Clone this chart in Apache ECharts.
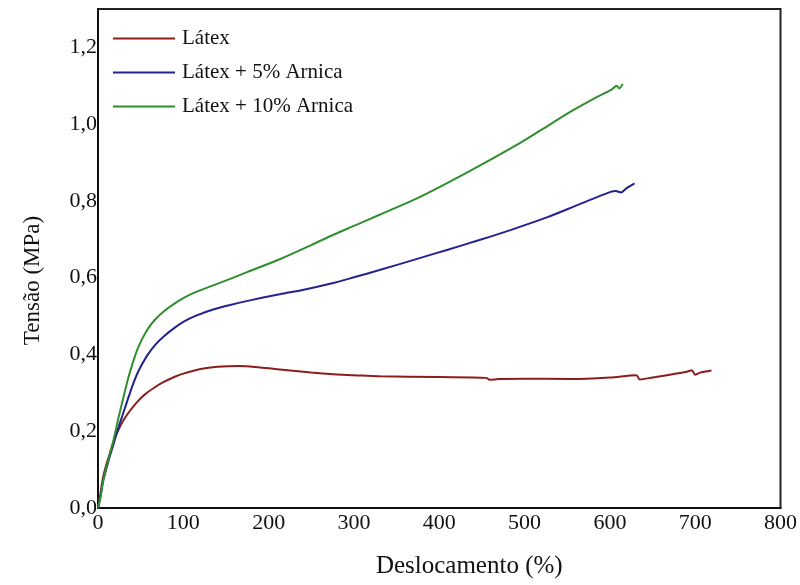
<!DOCTYPE html>
<html>
<head>
<meta charset="utf-8">
<script src="https://cdn.jsdelivr.net/npm/echarts@6/dist/echarts.min.js"></script>
<style>
  html, body { margin: 0; padding: 0; background: #fff; }
  #main { width: 800px; height: 585px; }
</style>
</head>
<body>
<div id="main"></div>
<script>
// series names
const seriesNames = ["Látex", "Látex + 5% Arnica", "Látex + 10% Arnica"];

// [deslocamento (%), tensão (MPa)]
const latex = [
  [0, 0], [3, 0.04], [6, 0.08], [10, 0.115], [15, 0.15], [20, 0.183], [25, 0.208],
  [30, 0.229], [37, 0.252], [45, 0.274], [55, 0.296], [65, 0.312], [76, 0.327],
  [90, 0.342], [100, 0.35], [120, 0.362], [140, 0.368], [166, 0.37], [190, 0.366],
  [213, 0.361], [250, 0.353], [272, 0.349], [300, 0.346], [330, 0.343], [400, 0.341],
  [455, 0.339], [459, 0.334], [470, 0.336], [500, 0.337], [553, 0.336], [600, 0.34],
  [631, 0.346], [635, 0.335], [650, 0.34], [690, 0.355], [696, 0.359], [700, 0.347],
  [705, 0.352], [719, 0.358]
];

const latex5 = [
  [0, 0], [3, 0.03], [6, 0.07], [12, 0.12], [18, 0.165], [24, 0.21], [30, 0.25],
  [36, 0.29], [41, 0.322], [47, 0.355], [57, 0.395], [67, 0.425], [77, 0.447],
  [90, 0.47], [100, 0.485], [115, 0.501], [135, 0.517], [155, 0.529], [174, 0.539],
  [213, 0.557], [240, 0.568], [272, 0.584], [300, 0.601], [330, 0.62], [377, 0.651],
  [410, 0.673], [447, 0.698], [486, 0.726], [526, 0.757], [564, 0.791], [600, 0.823],
  [607, 0.826], [613, 0.822], [620, 0.834], [629, 0.846]
];

const latex10 = [
  [0, 0], [3, 0.03], [6, 0.07], [12, 0.125], [18, 0.175], [24, 0.235], [30, 0.29],
  [35, 0.335], [41, 0.38], [47, 0.418], [57, 0.462], [67, 0.491], [77, 0.512],
  [90, 0.533], [100, 0.547], [115, 0.563], [135, 0.58], [155, 0.597], [174, 0.614],
  [213, 0.648], [250, 0.685], [272, 0.708], [300, 0.735], [330, 0.764], [377, 0.81],
  [435, 0.877], [494, 0.95], [518, 0.983], [556, 1.035], [584, 1.07], [602, 1.09],
  [608, 1.1], [611, 1.093], [615, 1.105]
];

const colors = ["#8b1d1d", "#23238f", "#2f8f2f"];

const chart = echarts.init(document.getElementById("main"));

const serif = "'Liberation Serif', 'DejaVu Serif', serif";

chart.setOption({
  backgroundColor: "#fff",
  animation: false,
  color: colors,
  textStyle: { fontFamily: serif },
  legend: {
    orient: "vertical",
    left: 113,
    top: 28,
    padding: 0,
    icon: "rect",
    itemWidth: 62,
    itemHeight: 2,
    itemGap: 13,
    data: seriesNames,
    textStyle: { fontFamily: serif, fontSize: 21, color: "#111", padding: [0, 0, 0, 2] }
  },
  grid: {
    left: 98,
    right: 19,
    top: 9,
    bottom: 77,
    show: true,
    borderColor: "#222",
    borderWidth: 2,
    containLabel: false
  },
  xAxis: {
    type: "value",
    min: 0,
    max: 800,
    interval: 100,
    name: "Deslocamento (%)",
    nameLocation: "middle",
    nameGap: 46,
    nameTextStyle: { fontFamily: serif, fontSize: 25, color: "#111", padding: [0, 0, 0, 60] },
    axisLine: { show: true, lineStyle: { color: "#111", width: 2 } },
    axisTick: { show: false },
    splitLine: { show: false },
    axisLabel: { fontFamily: serif, fontSize: 22, color: "#111", margin: 4 }
  },
  yAxis: {
    type: "value",
    min: 0,
    max: 1.3,
    interval: 0.2,
    name: "Tensão (MPa)",
    nameLocation: "middle",
    nameGap: 54,
    nameTextStyle: { fontFamily: serif, fontSize: 23, color: "#111", padding: [0, 44, 0, 0] },
    axisLine: { show: true, lineStyle: { color: "#111", width: 2 } },
    axisTick: { show: false },
    splitLine: { show: false },
    axisLabel: {
      fontFamily: serif,
      fontSize: 22,
      color: "#111",
      margin: 1,
      showMaxLabel: false,
      formatter: function (v) {
        const r = Math.round(v * 10) / 10;
        if (Math.round(r * 10) % 2 !== 0) return "";
        return r.toFixed(1).replace(".", ",");
      }
    }
  },
  series: [
    { name: seriesNames[0], type: "line", data: latex, symbol: "none", smooth: 0.3, lineStyle: { width: 2 } },
    { name: seriesNames[1], type: "line", data: latex5, symbol: "none", smooth: 0.3, lineStyle: { width: 2 } },
    { name: seriesNames[2], type: "line", data: latex10, symbol: "none", smooth: 0.3, lineStyle: { width: 2 } }
  ]
});
</script>
</body>
</html>
